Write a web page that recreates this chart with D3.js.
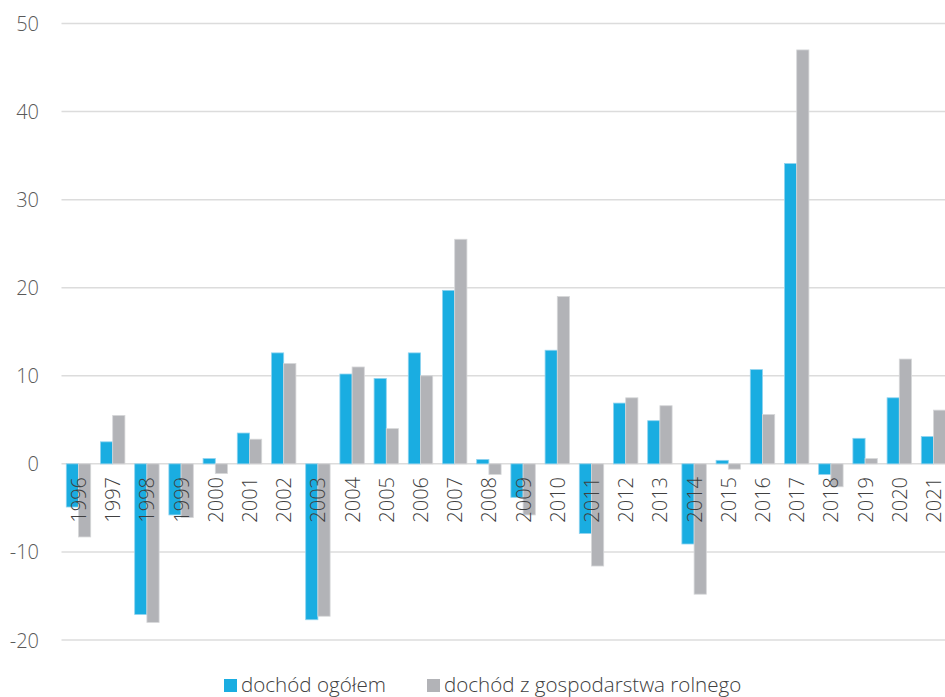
<!DOCTYPE html>
<html>
<head>
<meta charset="utf-8">
<script src="https://cdn.jsdelivr.net/npm/d3@7"></script>
<style>
  html, body { margin: 0; padding: 0; background: #fff; }
  svg { display: block; font-family: "Open Sans", "Noto Sans", sans-serif; }
</style>
</head>
<body>
<svg id="chart" width="945" height="697"></svg>
<script>
// Annual change of income (%), 1996–2021
const years = ["1996","1997","1998","1999","2000","2001","2002","2003","2004","2005","2006","2007","2008","2009","2010","2011","2012","2013","2014","2015","2016","2017","2018","2019","2020","2021"];
const incomeTotal = [-4.9, 2.5, -17.1, -5.8, 0.6, 3.5, 12.6, -17.7, 10.2, 9.7, 12.6, 19.7, 0.5, -3.8, 12.9, -7.9, 6.9, 4.9, -9.1, 0.4, 10.7, 34.1, -1.2, 2.9, 7.5, 3.1];
const incomeFarm = [-8.3, 5.5, -18.0, -6.1, -1.1, 2.8, 11.4, -17.3, 11.0, 4.0, 10.0, 25.5, -1.2, -5.8, 19.0, -11.6, 7.5, 6.6, -14.8, -0.6, 5.6, 47.0, -2.6, 0.6, 11.9, 6.1];
const yTicks = [-20, -10, 0, 10, 20, 30, 40, 50];
const seriesNames = ["dochód ogółem", "dochód z gospodarstwa rolnego"];

const colors = { fill: ["#1aade1", "#b2b3b7"], edge: ["#8fd3ef", "#d6d7d9"] };

const svg = d3.select("#chart");

const x0 = d3.scaleBand().domain(years).range([61.5, 950.5]).paddingInner(0.286).paddingOuter(0.14);
const x1 = d3.scaleBand().domain([0, 1]).range([0, x0.bandwidth()]);
const y = d3.scaleLinear().domain([-20, 50]).range([640, 23.5]);

// horizontal gridlines
svg.append("g").selectAll("line").data(yTicks).join("line")
  .attr("x1", 61.5).attr("x2", 945)
  .attr("y1", d => y(d)).attr("y2", d => y(d))
  .attr("stroke", "#dcdcdc").attr("stroke-width", 1.5);

// y axis labels
svg.append("g").selectAll("text").data(yTicks).join("text")
  .attr("x", 39).attr("y", d => y(d))
  .attr("text-anchor", "end").attr("dominant-baseline", "central")
  .attr("font-size", 20).attr("font-weight", 300).attr("fill", "#595959")
  .text(d => d);

// bars
const rows = years.map((yr, i) => ({ yr, vals: [incomeTotal[i], incomeFarm[i]] }));
const groups = svg.append("g").selectAll("g").data(rows).join("g")
  .attr("transform", d => `translate(${x0(d.yr)},0)`);
groups.selectAll("rect").data(d => d.vals.map((v, k) => ({ v, k }))).join("rect")
  .attr("x", d => x1(d.k))
  .attr("width", x1.bandwidth())
  .attr("y", d => y(Math.max(0, d.v)))
  .attr("height", d => Math.abs(y(d.v) - y(0)))
  .attr("fill", d => colors.fill[d.k])
  .attr("stroke", d => colors.edge[d.k])
  .attr("stroke-width", 0.8);

// rotated year labels
svg.append("g").selectAll("text").data(years).join("text")
  .attr("transform", d => `translate(${x0(d) + x0.bandwidth() / 2},477) rotate(-90)`)
  .attr("text-anchor", "end").attr("dominant-baseline", "central")
  .attr("font-size", 20).attr("font-weight", 300).attr("fill", "#404040")
  .text(d => d);

// legend
const legendX = [224, 427];
const legend = svg.append("g").selectAll("g").data(seriesNames).join("g")
  .attr("transform", (d, i) => `translate(${legendX[i]},679)`);
legend.append("rect").attr("width", 13).attr("height", 13)
  .attr("fill", (d, i) => colors.fill[i]);
legend.append("text").attr("x", 17).attr("y", 13)
  .attr("font-size", 20.6).attr("font-weight", 300).attr("fill", "#404040")
  .text(d => d);
</script>
</body>
</html>
